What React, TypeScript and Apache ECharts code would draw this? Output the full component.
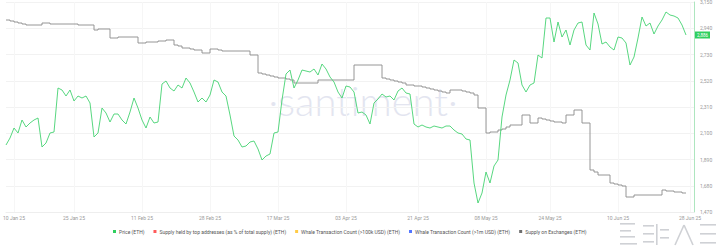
import React, { useEffect, useRef } from "react";
import * as echarts from "echarts";

// Daily categories, first day of the window
const startDate = Date.UTC(2025, 0, 8);
const categoryCount = 173;
// Indices of the dates that carry an x tick label
const tickIndices = [2, 17, 34, 51, 68, 85, 103, 120, 136, 153, 171];

// Price (ETH), USD
const priceValues = [
  2006, 2062, 2142, 2102, 2206, 2150, 2182, 2206, 2222, 1990,
  2022, 2102, 2110, 2462, 2446, 2398, 2446, 2358, 2398, 2382,
  2398, 2342, 2070, 2102, 2302, 2262, 2190, 2254, 2254, 2206,
  2174, 2270, 2382, 2302, 2206, 2142, 2230, 2182, 2190, 2494,
  2518, 2462, 2438, 2486, 2462, 2542, 2502, 2430, 2350, 2382,
  2350, 2406, 2526, 2510, 2430, 2398, 2246, 2078, 2046, 1990,
  1998, 2030, 2038, 1974, 1886, 1918, 1934, 2102, 2110, 2366,
  2574, 2606, 2462, 2526, 2606, 2598, 2590, 2614, 2566, 2654,
  2614, 2550, 2510, 2430, 2382, 2478, 2470, 2430, 2262, 2270,
  2246, 2174, 2342, 2374, 2414, 2390, 2398, 2366, 2438, 2462,
  2422, 2414, 2174, 2150, 2166, 2150, 2142, 2158, 2150, 2142,
  2158, 2158, 2126, 2102, 2094, 2054, 2046, 1702, 1542, 1622,
  1790, 1702, 1838, 1886, 2230, 2406, 2526, 2686, 2662, 2486,
  2430, 2486, 2502, 2726, 2702, 3022, 3022, 2830, 2990, 2870,
  2926, 2806, 2926, 2982, 2990, 2806, 2766, 3062, 2974, 2814,
  2830, 2790, 2766, 2870, 2862, 2822, 2646, 2710, 2862, 3030,
  2958, 2982, 2894, 2958, 3006, 3070, 3046, 3038, 3022, 2966,
  2886,
];

// Supply on Exchanges (ETH), millions
const exchangeSupply = [
  10.92, 10.91, 10.90, 10.89, 10.88, 10.87, 10.87, 10.87, 10.87, 10.89,
  10.89, 10.88, 10.88, 10.88, 10.88, 10.88, 10.88, 10.88, 10.87, 10.87,
  10.87, 10.87, 10.82, 10.83, 10.83, 10.83, 10.74, 10.74, 10.75, 10.75,
  10.75, 10.75, 10.75, 10.69, 10.69, 10.70, 10.70, 10.70, 10.71, 10.71,
  10.72, 10.72, 10.67, 10.66, 10.64, 10.64, 10.63, 10.62, 10.62, 10.59,
  10.59, 10.63, 10.63, 10.62, 10.61, 10.61, 10.61, 10.61, 10.61, 10.61,
  10.61, 10.57, 10.57, 10.39, 10.38, 10.37, 10.36, 10.35, 10.34, 10.34,
  10.33, 10.32, 10.29, 10.29, 10.29, 10.29, 10.29, 10.29, 10.32, 10.32,
  10.32, 10.32, 10.32, 10.32, 10.32, 10.32, 10.32, 10.47, 10.47, 10.47,
  10.47, 10.47, 10.47, 10.47, 10.34, 10.33, 10.32, 10.31, 10.30, 10.29,
  10.27, 10.27, 10.26, 10.26, 10.25, 10.24, 10.23, 10.22, 10.21, 10.20,
  10.19, 10.22, 10.22, 10.22, 10.21, 10.20, 10.19, 10.17, 10.04, 10.04,
  9.79, 9.80, 9.80, 9.82, 9.83, 9.85, 9.87, 9.87, 9.87, 9.97,
  9.97, 9.89, 9.89, 9.94, 9.93, 9.92, 9.91, 9.90, 9.90, 9.89,
  9.97, 9.97, 10.02, 10.02, 9.89, 9.89, 9.42, 9.40, 9.37, 9.37,
  9.37, 9.29, 9.28, 9.27, 9.26, 9.15, 9.15, 9.17, 9.17, 9.17,
  9.17, 9.17, 9.17, 9.17, 9.22, 9.21, 9.21, 9.20, 9.20, 9.19,
  9.19,
];

// Right price axis
const priceMin = 1470;
const priceMax = 3150;
const priceStep = 210;

const seriesNames = [
  "Price (ETH)",
  "Supply held by top addresses (as % of total supply) (ETH)",
  "Whale Transaction Count (>100k USD) (ETH)",
  "Whale Transaction Count (>1m USD) (ETH)",
  "Supply on Exchanges (ETH)",
];
const seriesColors = ["#2fcf5e", "#FF5B5B", "#FFCB47", "#5275FF", "#6e6e6e"];

const MONTHS = ["Jan", "Feb", "Mar", "Apr", "May", "Jun", "Jul", "Aug", "Sep", "Oct", "Nov", "Dec"];
const categories: string[] = [];
for (let i = 0; i < categoryCount; i++) {
  const d = new Date(startDate + i * 86400000);
  const dd = String(d.getUTCDate()).padStart(2, "0");
  categories.push(`${dd} ${MONTHS[d.getUTCMonth()]} ${String(d.getUTCFullYear()).slice(2)}`);
}

const tickSet = new Set(tickIndices);
const FONT = "Roboto, 'Noto Sans', sans-serif";
const LOGO = "#cfd1d5";

export default function App() {
  const ref = useRef<HTMLDivElement>(null);
  useEffect(() => {
    if (!ref.current) return;
    const chart = echarts.init(ref.current, undefined, { renderer: "svg" });
    const lastPrice = priceValues[priceValues.length - 1];
    chart.setOption({
      animation: false,
      backgroundColor: "#ffffff",
      textStyle: { fontFamily: FONT },
      grid: { left: 6, right: 23, top: 2, bottom: 37, outerBoundsMode: "none" },
      legend: {
        left: 113,
        top: 229,
        icon: "rect",
        itemWidth: 3,
        itemHeight: 3,
        itemGap: 9,
        padding: 0,
        textStyle: { fontSize: 5, color: "#555", fontFamily: FONT, padding: [0, 0, 0, -2] },
        data: seriesNames,
      },
      graphic: [
        {
          type: "text",
          x: 363,
          y: 101,
          z: -10,
          style: {
            text: "·santiment·",
            fontSize: 40,
            fontWeight: 300,
            fontFamily: "Lato, sans-serif",
            fill: "#e3e5f0",
            textAlign: "center",
            textVerticalAlign: "middle",
          },
        },
        {
          type: "group",
          x: 620,
          y: 223,
          children: [
            { type: "rect", shape: { x: 0, y: 0, width: 15, height: 1.6 }, style: { fill: LOGO } },
            { type: "rect", shape: { x: 0, y: 7, width: 11, height: 1.6 }, style: { fill: LOGO } },
            { type: "rect", shape: { x: 0, y: 13, width: 15, height: 1.6 }, style: { fill: LOGO } },
            { type: "rect", shape: { x: 0, y: 20, width: 17, height: 1.6 }, style: { fill: LOGO } },
            { type: "rect", shape: { x: 23, y: 2, width: 11, height: 1.6 }, style: { fill: LOGO } },
            { type: "rect", shape: { x: 23, y: 10, width: 11, height: 1.6 }, style: { fill: LOGO } },
            { type: "rect", shape: { x: 23, y: 18, width: 11, height: 1.6 }, style: { fill: LOGO } },
            { type: "rect", shape: { x: 36, y: 1, width: 1.6, height: 21 }, style: { fill: LOGO } },
            { type: "rect", shape: { x: 40, y: 6, width: 9, height: 1.6 }, style: { fill: LOGO } },
            { type: "rect", shape: { x: 40, y: 14, width: 9, height: 1.6 }, style: { fill: LOGO } },
            { type: "line", shape: { x1: 55, y1: 22, x2: 64, y2: 2 }, style: { stroke: LOGO, lineWidth: 1.6 } },
            { type: "line", shape: { x1: 64, y1: 2, x2: 73, y2: 22 }, style: { stroke: LOGO, lineWidth: 1.6 } },
            { type: "rect", shape: { x: 80, y: 1, width: 16, height: 1.6 }, style: { fill: LOGO } },
            { type: "rect", shape: { x: 80, y: 10, width: 16, height: 1.6 }, style: { fill: LOGO } },
            { type: "rect", shape: { x: 80, y: 19, width: 16, height: 1.6 }, style: { fill: LOGO } },
          ],
        },
      ],
      xAxis: {
        type: "category",
        data: categories,
        boundaryGap: false,
        axisLine: { show: true, lineStyle: { color: "#eeeeee" } },
        axisTick: { show: false },
        axisLabel: {
          interval: (idx: number) => tickSet.has(idx),
          fontSize: 5,
          color: "#9a9a9a",
          margin: 3,
          showMaxLabel: true,
          fontFamily: FONT,
        },
        splitLine: {
          show: true,
          interval: (idx: number) => tickSet.has(idx),
          lineStyle: { color: "#f6f6f6" },
        },
      },
      yAxis: [
        {
          type: "value",
          position: "right",
          min: priceMin,
          max: priceMax,
          interval: priceStep,
          axisLine: { show: true, lineStyle: { color: "#aee6bf" } },
          axisTick: { show: false },
          axisLabel: { fontSize: 5, color: "#9a9a9a", margin: 6, fontFamily: FONT },
          splitLine: { show: true, lineStyle: { color: "#f2f2f2" } },
        },
        {
          type: "value",
          show: false,
          min: 9.0,
          max: 11.1,
          splitLine: { show: false },
        },
      ],
      series: [
        {
          name: seriesNames[0],
          type: "line",
          yAxisIndex: 0,
          data: priceValues,
          showSymbol: false,
          symbol: "none",
          clip: false,
          lineStyle: { color: "#45d272", width: 0.9 },
          itemStyle: { color: seriesColors[0] },
          z: 3,
          markLine: {
            silent: true,
            symbol: ["none", "none"],
            lineStyle: { color: "rgba(255,255,255,0)", width: 0, type: "solid" },
            data: [{ yAxis: lastPrice }],
            label: {
              show: true,
              position: "end",
              distance: 1,
              formatter: () => lastPrice.toLocaleString("en-US"),
              backgroundColor: seriesColors[0],
              color: "#ffffff",
              fontSize: 4.5,
              padding: [1, 2],
              fontFamily: FONT,
            },
          },
        },
        { name: seriesNames[1], type: "line", data: [], itemStyle: { color: seriesColors[1] } },
        { name: seriesNames[2], type: "line", data: [], itemStyle: { color: seriesColors[2] } },
        { name: seriesNames[3], type: "line", data: [], itemStyle: { color: seriesColors[3] } },
        {
          name: seriesNames[4],
          type: "line",
          yAxisIndex: 1,
          data: exchangeSupply,
          step: "end",
          showSymbol: false,
          symbol: "none",
          lineStyle: { color: "#8a8a8a", width: 0.9 },
          itemStyle: { color: seriesColors[4] },
          z: 2,
        },
      ],
    });
    return () => chart.dispose();
  }, []);
  return (
    <div
      ref={ref}
      style={{ position: "fixed", left: 0, top: 0, width: 717, height: 249, background: "#fff" }}
    />
  );
}
